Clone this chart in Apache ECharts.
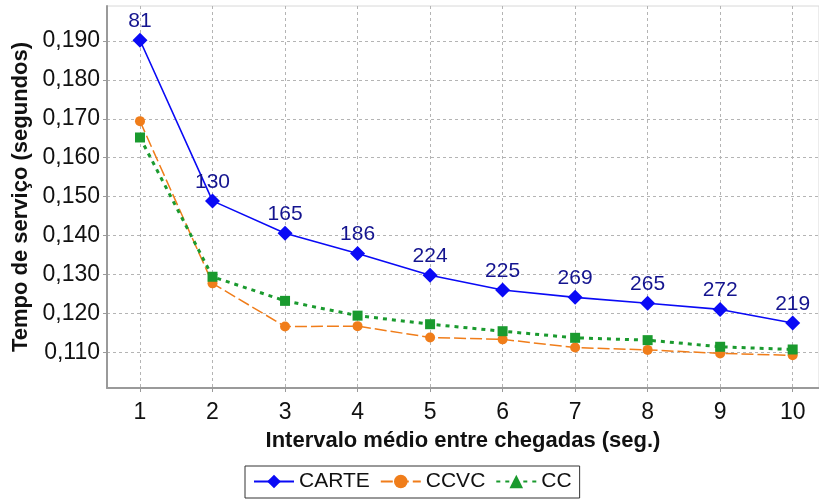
<!DOCTYPE html>
<html>
<head>
<meta charset="utf-8">
<script src="https://cdn.jsdelivr.net/npm/echarts@6/dist/echarts.min.js"></script>
<style>
  html, body { margin: 0; padding: 0; background: #ffffff; }
  #chart { width: 819px; height: 502px; }
</style>
</head>
<body>
<div id="chart"></div>
<script>
// Mean inter-arrival interval (seconds)
const intervals = [1, 2, 3, 4, 5, 6, 7, 8, 9, 10];

// Mean service time (seconds) per scheme
const carte = [0.1902, 0.1489, 0.1406, 0.1354, 0.1298, 0.1260, 0.1241, 0.1226, 0.1210, 0.1175];
const ccvc  = [0.1694, 0.1277, 0.1166, 0.1167, 0.1138, 0.1133, 0.1112, 0.1106, 0.1097, 0.1092];
const cc    = [0.1652, 0.1294, 0.1232, 0.1194, 0.1172, 0.1154, 0.1137, 0.1131, 0.1114, 0.1107];

// Counts printed above the CARTE points
const carteCounts = [81, 130, 165, 186, 224, 225, 269, 265, 272, 219];

// Axis ticks
const xTicks = [1, 2, 3, 4, 5, 6, 7, 8, 9, 10];
const yTicks = [0.11, 0.12, 0.13, 0.14, 0.15, 0.16, 0.17, 0.18, 0.19];

const FONT = '"Liberation Sans", Arial, sans-serif';
const gridLine = { show: true, lineStyle: { color: '#b4b4b4', type: [3, 3], width: 1 } };

const pairs = (ys) => intervals.map((x, i) => [x, ys[i]]);

const chart = echarts.init(document.getElementById('chart'), null, { renderer: 'canvas' });

chart.setOption({
  animation: false,
  backgroundColor: '#ffffff',
  textStyle: { fontFamily: FONT },
  grid: {
    left: 107, top: 6, right: 0, bottom: 114,
    show: true, borderColor: '#d8d8d8', borderWidth: 1, backgroundColor: '#ffffff'
  },
  legend: {
    left: 245, top: 466,
    padding: [5, 8, 6, 8],
    borderColor: '#333333', borderWidth: 1, borderRadius: 0,
    itemWidth: 40, itemHeight: 17, itemGap: 10,
    textStyle: { fontSize: 21, color: '#111111', fontFamily: FONT },
    data: ['CARTE', 'CCVC', 'CC']
  },
  xAxis: {
    type: 'value',
    min: 0.545, max: 10.363,
    name: 'Intervalo médio entre chegadas (seg.)',
    nameLocation: 'middle', nameGap: 42,
    nameTextStyle: { fontSize: 22, fontWeight: 'bold', color: '#111111', fontFamily: FONT },
    axisLine: { show: true, onZero: false, lineStyle: { color: '#9a9a9a', width: 2 } },
    axisTick: { show: true, length: 4, customValues: xTicks, lineStyle: { color: '#9a9a9a' } },
    axisLabel: { customValues: xTicks, fontSize: 23, color: '#111111', margin: 13, fontFamily: FONT },
    splitLine: gridLine
  },
  yAxis: {
    type: 'value',
    min: 0.1008, max: 0.1990,
    name: 'Tempo de serviço (segundos)',
    nameLocation: 'middle', nameGap: 71,
    nameTextStyle: { fontSize: 22, fontWeight: 'bold', color: '#111111', fontFamily: FONT },
    axisLine: { show: true, lineStyle: { color: '#9a9a9a', width: 2 } },
    axisTick: { show: true, length: 4, customValues: yTicks, lineStyle: { color: '#9a9a9a' } },
    axisLabel: {
      customValues: yTicks, fontSize: 23, color: '#111111', margin: 7, fontFamily: FONT,
      formatter: (v) => v.toFixed(3).replace('.', ',')
    },
    splitLine: gridLine
  },
  series: [
    {
      name: 'CARTE', type: 'line', data: pairs(carte),
      symbol: 'diamond', symbolSize: 15,
      lineStyle: { color: '#0a0af5', width: 1.6 },
      itemStyle: { color: '#0a0af5' },
      label: {
        show: true, position: 'top', distance: 1,
        fontSize: 21, color: '#14148f', fontFamily: FONT,
        formatter: (p) => String(carteCounts[p.dataIndex])
      },
      z: 3
    },
    {
      name: 'CCVC', type: 'line', data: pairs(ccvc),
      symbol: 'circle', symbolSize: 10,
      lineStyle: { color: '#f07d1a', width: 1.5, type: [12, 4] },
      itemStyle: { color: '#f07d1a' },
      z: 2
    },
    {
      // Series symbol is a triangle (used by the legend); the plotted points are squares
      name: 'CC', type: 'line',
      data: pairs(cc).map((v) => ({ value: v, symbol: 'rect' })),
      symbol: 'triangle', symbolSize: 10,
      lineStyle: { color: '#1a9a2e', width: 3, type: [4, 5] },
      itemStyle: { color: '#1a9a2e' },
      z: 2
    }
  ]
});
</script>
</body>
</html>
